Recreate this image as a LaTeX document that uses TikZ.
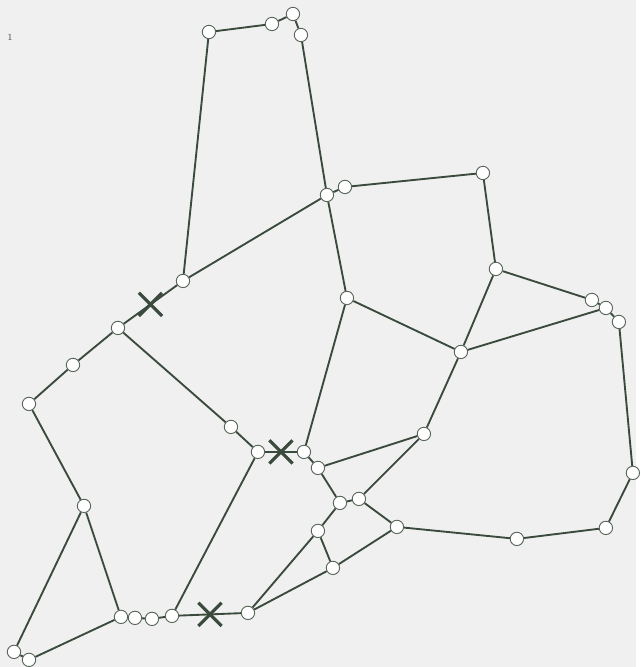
\documentclass[tikz,border=0pt]{standalone}
\usepackage{tikz}
\usetikzlibrary{shapes.misc}
\definecolor{ink}  {HTML}{3A4A3C}
\definecolor{paper}{HTML}{F0F0F0}
\tikzset{
  % --- nodes
  v/.style   = {circle, draw=ink!85, fill=white, line width=0.7pt,
                minimum size=10pt, inner sep=0pt},
  cut/.style = {cross out, draw=ink, line width=2.4pt, minimum size=15pt,
                inner sep=0pt},
  % --- edges
  e/.style   = {draw=ink, line width=1.4pt},
}
\begin{document}
\begin{tikzpicture}[x=0.75pt,y=-0.75pt]
  \fill[paper] (0,0) rectangle (636,667);
  \node[font=\scriptsize, text=ink] (num) at (10,37) {1};
  % --- vertices
  \foreach \n/\x/\y in {
      n1/209/32,  n2/272/24,  n3/293/14,  n4/301/35,  n5/327/195,
      n6/345/187, n7/483/173, n8/183/281, n9/118/328, n10/73/365,
      n11/29/404, n12/231/427, n13/258/452, n14/347/298, n15/496/269,
      n16/592/300, n17/606/308, n18/619/322, n19/461/352, n20/424/434,
      n21/304/452, n22/318/468, n23/340/503, n24/359/499, n25/397/527,
      n26/318/531, n27/333/568, n28/517/539, n29/606/528, n30/633/473,
      n31/84/506, n32/121/617, n33/135/618, n34/152/619, n35/172/616,
      n36/248/613, n37/14/652, n38/29/660}
    \node[v] (\n) at (\x,\y) {};
  % --- edges
  \foreach \a/\b in {
      n1/n2, n2/n3, n3/n4, n1/n8, n4/n5, n5/n6, n6/n7, n7/n15,
      n5/n8, n5/n14, n9/n10, n10/n11, n9/n12, n12/n13, n21/n14,
      n14/n19, n15/n16, n15/n19, n19/n17, n16/n17, n17/n18,
      n18/n30, n30/n29, n29/n28, n28/n25, n19/n20, n20/n22,
      n20/n24, n21/n22, n22/n23, n23/n24, n24/n25, n23/n26,
      n26/n27, n25/n27, n26/n36, n27/n36, n35/n34, n34/n33,
      n33/n32, n35/n13, n11/n31, n31/n37, n31/n32, n32/n38, n37/n38}
    \draw[e] (\a) -- (\b);
  % --- cut edges
  \draw[e] (n8) -- node[cut] (x1) {} (n9);
  \draw[e] (n13) -- node[cut] (x2) {} (n21);
  \draw[e] (n35) -- node[cut] (x3) {} (n36);
\end{tikzpicture}
\end{document}
